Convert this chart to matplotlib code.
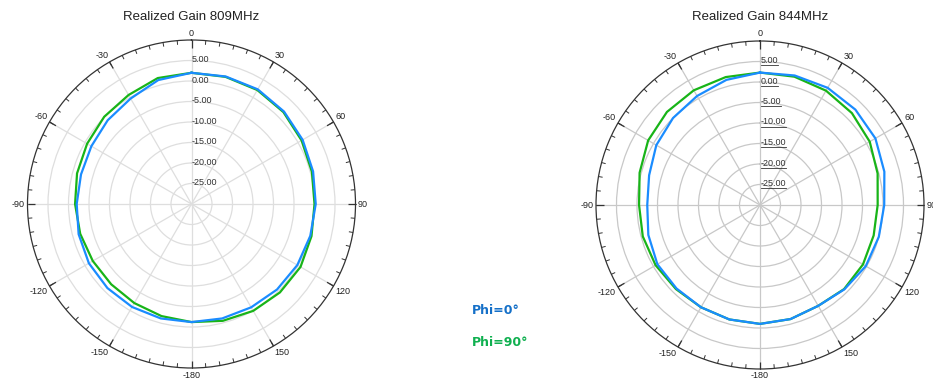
import numpy as np
import matplotlib
matplotlib.use('Agg')
import matplotlib.pyplot as plt
from matplotlib.transforms import offset_copy

# ---------------- data ----------------
angles_deg = [0, 15, 30, 45, 60, 75, 90, 105, 120, 135, 150, 165,
              180, 195, 210, 225, 240, 255, 270, 285, 300, 315, 330, 345]

gain_809_phi0 = [2.0, 2.2, 2.3, 1.9, 1.3, 0.7, 0.3, 0.0, -0.2, -0.5, -0.9, -1.1,
                 -1.2, -1.1, -1.0, -1.0, -1.1, -1.5, -2.0, -2.1, -1.8, -1.1, -0.3, 1.3]
gain_809_phi90 = [2.0, 2.1, 2.1, 1.7, 1.0, 0.4, 0.0, 0.3, 0.7, 0.5, 0.1, -0.5,
                  -1.2, -1.7, -2.1, -2.3, -2.2, -1.9, -1.6, -1.1, -0.6, 0.1, 0.7, 1.8]

gain_844_phi0 = [2.3, 2.7, 3.0, 2.9, 2.5, 1.4, 0.3, 0.0, -0.2, -0.9, -1.6, -1.2,
                 -1.0, -1.1, -1.2, -1.2, -1.1, -1.8, -2.5, -2.0, -0.8, 0.0, 0.7, 1.6]
gain_844_phi90 = [2.3, 2.4, 2.2, 1.7, 0.9, -0.3, -1.3, -1.3, -1.0, -1.0, -1.6, -1.2,
                  -1.0, -1.1, -1.2, -1.0, -0.6, -0.4, -0.5, 0.4, 1.5, 2.1, 2.3, 2.3]

r_ticks = [-25, -20, -15, -10, -5, 0, 5]
r_tick_labels = ['-25.00', '-20.00', '-15.00', '-10.00', '-5.00', '0.00', '5.00']
theta_ticks = [0, 30, 60, 90, 120, 150, 180, 210, 240, 270, 300, 330]
theta_labels = ['0', '30', '60', '90', '120', '150', '-180', '-150', '-120', '-90', '-60', '-30']
titles = ['Realized Gain 809MHz', 'Realized Gain 844MHz']
series_labels = ['Phi=0°', 'Phi=90°']

# ---------------- style ----------------
BLUE = '#1a8cff'
GREEN = '#18b418'
BLUE_TXT = '#1570c8'
GREEN_TXT = '#10b050'
FONT = 'Liberation Sans'
R_MIN, R_MAX = -30, 10

W, H = 933, 383
fig = plt.figure(figsize=(W / 100, H / 100), dpi=100)

R_PX = 164.0
DB_PER_PX = (R_MAX - R_MIN) / R_PX
panels = [
    dict(cx=191.5, cy=204.0, title=titles[0], d0=gain_809_phi0, d90=gain_809_phi90,
         grid='#dedede', underline=False),
    dict(cx=760.0, cy=205.0, title=titles[1], d0=gain_844_phi0, d90=gain_844_phi90,
         grid='#c8c8c8', underline=True),
]


def closed(v):
    return list(v) + [v[0]]


theta = np.deg2rad(closed(angles_deg))

for p in panels:
    rect = [(p['cx'] - R_PX) / W, (H - p['cy'] - R_PX) / H, 2 * R_PX / W, 2 * R_PX / H]
    ax = fig.add_axes(rect, projection='polar')
    ax.set_theta_zero_location('N')
    ax.set_theta_direction(-1)
    ax.set_ylim(R_MIN, R_MAX)

    ax.set_yticks(r_ticks)
    ax.set_yticklabels([])
    ax.set_xticks(np.deg2rad(theta_ticks))
    ax.set_xticklabels([])

    ax.xaxis.grid(True, which='major', color=p['grid'], lw=0.9)
    ax.yaxis.grid(True, color=p['grid'], lw=0.9)

    ax.tick_params(axis='both', length=0)
    ax.spines['polar'].set_color('#333333')
    ax.spines['polar'].set_linewidth(0.9)

    # inward ticks on the outer circle: minor every 5 deg, major every 30 deg
    minor = np.deg2rad(np.arange(0, 360, 5))
    major = np.deg2rad(np.arange(0, 360, 30))
    ax.vlines(minor, R_MAX - 4.2 * DB_PER_PX, R_MAX, color='#333333', lw=0.7,
              clip_on=False, zorder=6)
    ax.vlines(major, R_MAX - 7.5 * DB_PER_PX, R_MAX, color='#333333', lw=0.9,
              clip_on=False, zorder=6)

    # angle labels just outside the circle, anchored by their near edge
    for deg, lab in zip(theta_ticks, theta_labels):
        s, c = np.sin(np.deg2rad(deg)), np.cos(np.deg2rad(deg))
        ha = 'left' if s > 0.1 else ('right' if s < -0.1 else 'center')
        va = 'bottom' if c > 0.1 else ('top' if c < -0.1 else 'center')
        off = 2.5
        ax.annotate(lab, xy=(np.deg2rad(deg), R_MAX), xytext=(off * s, off * c),
                    textcoords='offset pixels', ha=ha, va=va, fontsize=6.5,
                    family=FONT, color='#222222', annotation_clip=False)

    ax.plot(theta, closed(p['d90']), color=GREEN, lw=1.6, zorder=3)
    ax.plot(theta, closed(p['d0']), color=BLUE, lw=1.6, zorder=4)

    tr = offset_copy(ax.transData, fig=fig, x=0.5, y=1.0, units='dots')
    for r, lab in zip(r_ticks, r_tick_labels):
        t = ax.text(0, r, lab, transform=tr, ha='left', va='center', fontsize=6.5,
                    family=FONT, color='#333333', zorder=5)
        if p['underline']:
            fig.canvas.draw()
            bb = t.get_window_extent()
            fig.add_artist(plt.Line2D([bb.x0 / W, bb.x1 / W], [bb.y0 / H, bb.y0 / H],
                                      transform=fig.transFigure, color='#333333', lw=0.6))

    fig.text(p['cx'] / W, 1 - 17 / H, p['title'], ha='center', va='center',
             fontsize=9.5, family=FONT, color='#222222')

fig.text(472 / W, 1 - 310 / H, series_labels[0], ha='left', va='center', fontsize=9,
         fontweight='bold', family='DejaVu Sans', color=BLUE_TXT)
fig.text(472 / W, 1 - 342 / H, series_labels[1], ha='left', va='center', fontsize=9,
         fontweight='bold', family='DejaVu Sans', color=GREEN_TXT)

fig.savefig('out.png', dpi=100)
